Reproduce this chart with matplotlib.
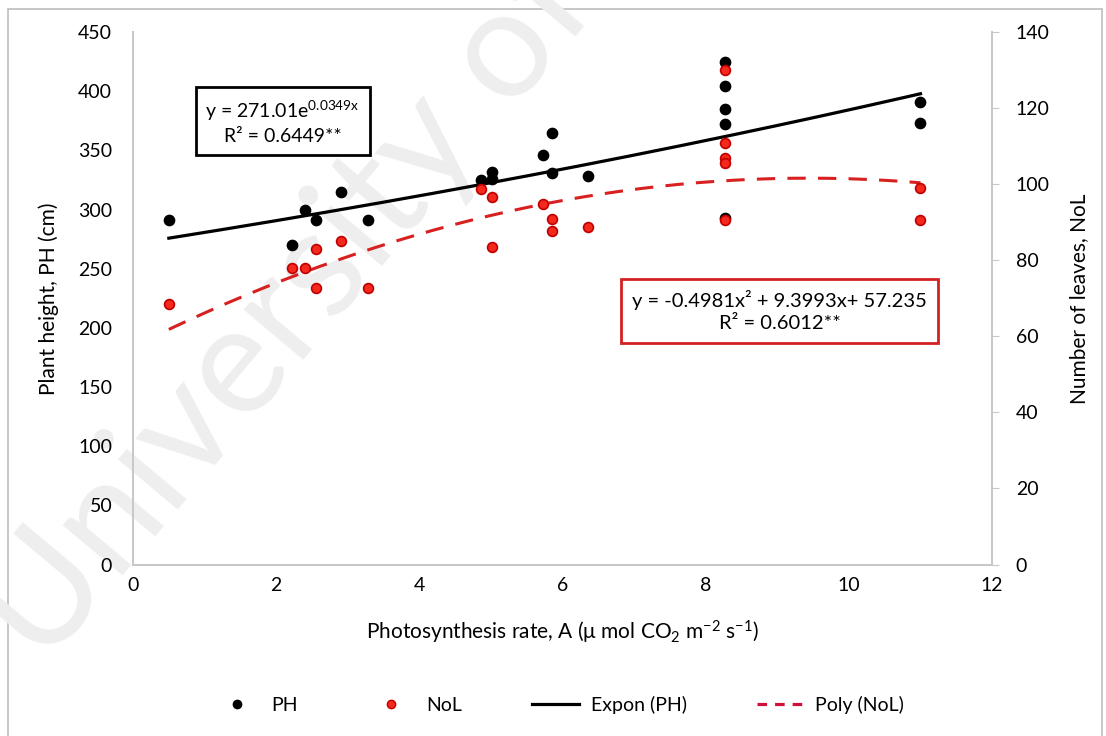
import numpy as np
import matplotlib
matplotlib.use("Agg")
import matplotlib.pyplot as plt
from matplotlib.lines import Line2D
from matplotlib.patches import Rectangle

plt.rcParams['font.family'] = ['Lato', 'DejaVu Sans']
plt.rcParams['mathtext.fontset'] = 'custom'
plt.rcParams['mathtext.rm'] = 'Lato'
plt.rcParams['mathtext.it'] = 'Lato:italic'

# Plant height (left axis)
ph_x = [0.50, 2.22, 2.40, 2.55, 2.90, 3.28, 4.86, 5.02, 5.02, 5.73,
        5.85, 5.85, 6.35, 8.27, 8.27, 8.27, 8.27, 8.27, 11.0, 11.0]
ph_y = [291, 270, 300, 291, 315, 291, 325, 332, 326, 346,
        365, 331, 328, 425, 404, 385, 372, 293, 391, 373]

# Number of leaves (right axis)
nol_x = [0.50, 2.22, 2.40, 2.55, 2.55, 2.90, 3.28, 4.86, 5.02, 5.02, 5.72,
         5.85, 5.85, 6.35, 8.27, 8.27, 8.27, 8.27, 8.27, 11.0, 11.0]
nol_y = [68.6, 78.0, 78.0, 83.0, 72.7, 85.0, 72.7, 98.6, 96.5, 83.6, 94.7,
         90.8, 87.8, 88.7, 130.0, 110.8, 107.0, 105.5, 90.7, 99.0, 90.7]

# trendline equations shown on the chart
exp_a, exp_b = 271.01, 0.0349
poly_c = [-0.4981, 9.3993, 57.235]

x_ticks = [0, 2, 4, 6, 8, 10, 12]
left_ticks = list(range(0, 451, 50))
right_ticks = list(range(0, 141, 20))

fig = plt.figure(figsize=(11.06, 7.36), dpi=100)
ax = fig.add_axes([0.1203, 0.233, 0.7767, 0.7235])
ax.set_facecolor('none')
ax2 = ax.twinx()
ax2.set_facecolor('none')

# watermark
fig.text(0.04, 0.09, "University of", fontsize=110, color='#eeeeee',
         rotation=50, rotation_mode='anchor', ha='left', va='baseline',
         zorder=-5)

# outer frame
fig.patches.append(Rectangle((8 / 1106, -0.01), 1094 / 1106, 1 - 9 / 736 + 0.01,
                             transform=fig.transFigure, fill=False,
                             edgecolor='#bdbdbd', lw=1.2, zorder=-6))

xs = np.linspace(min(ph_x), max(ph_x), 200)
ax.plot(xs, exp_a * np.exp(exp_b * xs), color='black', lw=2.3, zorder=2)
ax.scatter(ph_x, ph_y, s=55, color='black', zorder=3)

ax2.plot(xs, np.polyval(poly_c, xs), color='#d82020', lw=2.2,
         dashes=(6, 4), zorder=2)
ax2.scatter(nol_x, nol_y, s=50, facecolor='#f4281c', edgecolor='#c00000',
            linewidths=1.2, zorder=3)

ax.set_xlim(0, 12)
ax.set_ylim(0, 450)
ax2.set_ylim(0, 140)
ax.set_xticks(x_ticks)
ax.set_yticks(left_ticks)
ax2.set_yticks(right_ticks)

for a in (ax, ax2):
    for s in a.spines.values():
        s.set_color('#c8c8c8')
        s.set_linewidth(1.4)
    a.spines['top'].set_visible(False)

ax.tick_params(axis='x', length=0, pad=9, labelsize=14)
ax.tick_params(axis='y', length=0, pad=15, labelsize=14)
ax2.tick_params(axis='y', length=5, color='#c8c8c8', pad=12, labelsize=14)

ax.set_xlabel(r"Photosynthesis rate, A ($\mathrm{\mu}$ mol CO$_2$ m$^{-2}$ s$^{-1}$)",
              fontsize=15, labelpad=18)
ax.set_ylabel("Plant height, PH (cm)", fontsize=15, labelpad=14)
ax2.set_ylabel("Number of leaves, NoL", fontsize=15, labelpad=14)

# equation boxes
ax.text(2.09, 374, "y = 271.01e$^{\\mathrm{0.0349x}}$\nR² = 0.6449**",
        fontsize=14, ha='center', va='center', linespacing=1.35,
        bbox=dict(boxstyle='square,pad=0.5', facecolor='white',
                  edgecolor='black', lw=2), zorder=5)
ax.text(9.03, 214, "y = -0.4981x² + 9.3993x+ 57.235\nR² = 0.6012**",
        fontsize=14.5, ha='center', va='center', linespacing=1.35,
        bbox=dict(boxstyle='square,pad=0.55', facecolor='white',
                  edgecolor='#d42020', lw=2), zorder=5)

handles = [
    Line2D([], [], marker='o', ls='none', color='black', markersize=6),
    Line2D([], [], marker='o', ls='none', markerfacecolor='#f4281c',
           markeredgecolor='#c00000', markersize=6),
    Line2D([], [], color='black', lw=2.3),
    Line2D([], [], color='#d0103a', lw=2.3, dashes=(3, 2.5)),
]
fig.legend(handles, ["PH", "NoL", "Expon (PH)", "Poly (NoL)"], ncol=4,
           loc='center', bbox_to_anchor=(0.505, 0.042), frameon=False,
           fontsize=14, columnspacing=3.6, handlelength=2.4, handletextpad=0.6)

fig.savefig("out.png", dpi=100)
